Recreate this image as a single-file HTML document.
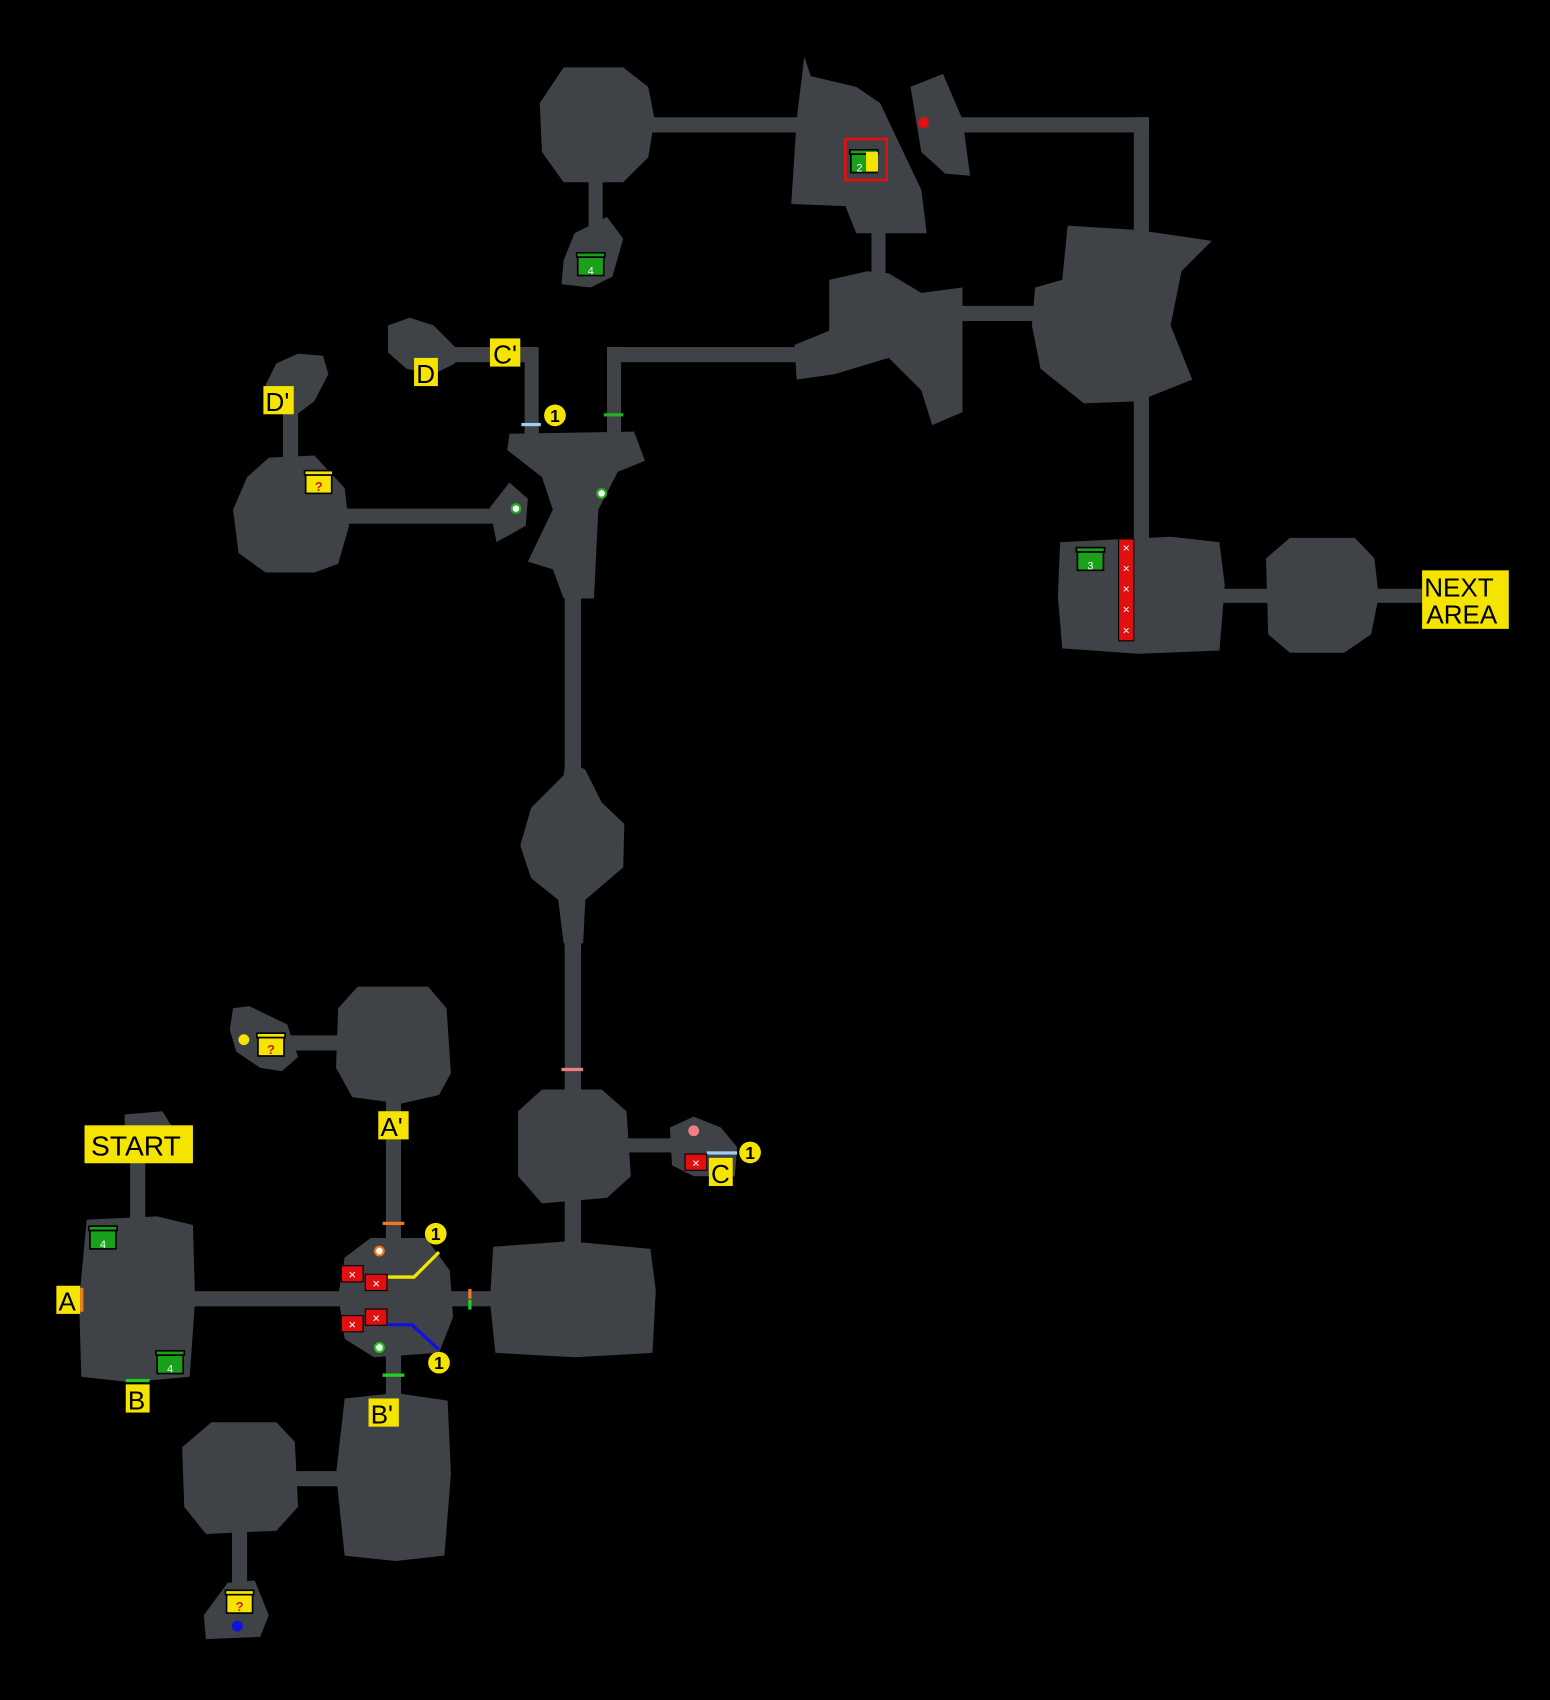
<!DOCTYPE html>
<html><head><meta charset="utf-8"><style>html,body{margin:0;padding:0;background:#000}svg{display:block}</style></head><body>
<svg width="1550" height="1700" viewBox="0 0 1430 1568" xmlns="http://www.w3.org/2000/svg" font-family="Liberation Sans, sans-serif">
<rect width="1430" height="1568" fill="#000"/>
<defs>
<g id="gc"><rect x="-12" y="-7" width="24" height="17" fill="#1aa01a" stroke="#000" stroke-width="1.5"/><rect x="-13" y="-11" width="26" height="4" fill="#1aa01a" stroke="#000" stroke-width="1.5"/></g>
<g id="yc"><rect x="-12" y="-7" width="24" height="17" fill="#f4e400" stroke="#000" stroke-width="1.5"/><rect x="-13" y="-11" width="26" height="4" fill="#f4e400" stroke="#000" stroke-width="1.5"/><text x="0" y="8" font-size="12" font-weight="bold" fill="#d02020" text-anchor="middle">?</text></g>
<g id="rx"><rect x="-10" y="-7.5" width="20" height="15" fill="#e01010" stroke="#000" stroke-width="1"/><text x="0" y="5" font-size="12" fill="#fff" text-anchor="middle">×</text></g>
<g id="one"><circle r="10" fill="#f4e400"/><text x="0" y="6" font-size="16" font-weight="bold" fill="#000" text-anchor="middle">1</text></g>
</defs>
<g fill="#3f4247">
<!-- corridors -->
<rect x="600" y="108" width="140" height="14"/>
<rect x="543" y="166" width="13" height="46"/>
<rect x="885" y="108" width="175" height="14"/>
<rect x="1046" y="108" width="14" height="108"/>
<rect x="804" y="212" width="13" height="45"/>
<rect x="886" y="282" width="75" height="14"/>
<rect x="1046" y="365" width="14" height="135"/>
<rect x="1126" y="543" width="46" height="13"/>
<rect x="1268" y="543" width="44" height="13"/>
<rect x="484" y="320" width="13" height="82"/>
<rect x="560" y="320" width="13" height="82"/>
<rect x="560" y="320" width="180" height="14"/>
<rect x="415" y="320" width="75" height="14"/>
<rect x="320" y="469" width="137" height="14"/>
<rect x="261" y="378" width="14" height="48"/>
<rect x="521" y="548" width="15" height="330"/>
<rect x="521" y="860" width="15" height="150"/>
<rect x="578" y="1050" width="48" height="13"/>
<rect x="521" y="1100" width="15" height="52"/>
<rect x="413" y="1191" width="44" height="14"/>
<rect x="176" y="1191" width="140" height="14"/>
<rect x="356" y="1012" width="14" height="140"/>
<rect x="356" y="1243" width="14" height="48"/>
<rect x="268" y="955" width="46" height="14"/>
<rect x="120" y="1068" width="14" height="60"/>
<rect x="270" y="1357" width="44" height="14"/>
<rect x="214" y="1408" width="14" height="55"/>
<!-- rooms -->
<polygon points="520,62 575,62 598,80 604,110 598,145 575,168 520,168 500,140 498,95"/>
<polygon points="530,215 560,200 575,220 565,255 545,265 518,262 520,240"/>
<polygon points="742,52 748,70 790,80 812,95 850,175 855,215 790,215 780,190 730,188 735,110"/>
<polygon points="840,80 870,68 888,110 895,162 872,160 850,140"/>
<polygon points="765,258 800,250 820,252 850,270 888,265 888,380 860,392 850,360 820,330 770,345 735,350 733,318 765,305"/>
<polygon points="985,208 1050,212 1118,222 1090,250 1080,300 1100,350 1050,370 1000,372 960,340 952,300 955,265 980,258"/>
<polygon points="978,500 1080,495 1125,500 1130,540 1125,600 1050,603 980,598 976,550"/>
<polygon points="1190,496 1250,496 1268,515 1272,550 1265,585 1240,602 1190,602 1170,585 1168,515"/>
<polygon points="470,400 585,398 595,425 570,435 552,470 548,552 520,552 510,525 487,518 510,470 500,440 468,415"/>
<polygon points="452,468 470,445 487,460 485,485 458,500"/>
<polygon points="248,422 290,420 318,450 322,485 312,520 290,528 245,528 220,510 215,470 228,440"/>
<polygon points="255,335 275,326 298,328 303,345 290,370 270,385 255,380 245,355"/>
<polygon points="358,300 378,293 400,300 420,320 420,335 400,345 375,340 358,325"/>
<polygon points="522,700 540,710 555,740 576,760 575,800 540,830 538,870 520,870 515,830 490,810 480,780 490,745 520,715"/>
<polygon points="500,1005 555,1005 578,1025 582,1085 560,1105 500,1110 478,1085 478,1025"/>
<polygon points="618,1040 640,1030 665,1040 680,1058 678,1085 640,1085 620,1075"/>
<polygon points="455,1150 525,1145 600,1152 605,1190 602,1248 530,1252 457,1248 452,1200"/>
<polygon points="342,1142 393,1142 415,1172 418,1215 405,1248 345,1252 318,1235 312,1195 318,1160"/>
<polygon points="330,910 395,910 412,930 416,990 405,1010 370,1018 325,1012 310,985 312,930"/>
<polygon points="215,930 230,928 265,945 275,975 260,988 240,985 218,970 212,950"/>
<polygon points="115,1028 150,1025 162,1045 115,1045"/>
<polygon points="80,1125 145,1122 178,1130 180,1200 175,1270 120,1275 75,1270 73,1200"/>
<polygon points="318,1290 365,1285 413,1292 416,1360 410,1435 365,1440 318,1435 310,1360"/>
<polygon points="195,1312 255,1312 272,1330 275,1390 255,1412 190,1415 170,1390 168,1335"/>
<polygon points="210,1460 235,1458 248,1490 240,1510 190,1512 188,1490"/>
</g>
<!-- markers -->
<rect x="481" y="390" width="18" height="3" fill="#9fd0f0"/>
<rect x="557" y="381" width="18" height="3" fill="#20b020"/>
<rect x="518" y="985" width="20" height="3" fill="#f08080"/>
<rect x="353" y="1127" width="20" height="3" fill="#f07820"/>
<rect x="353" y="1267" width="20" height="3" fill="#20d020"/>
<rect x="432" y="1189" width="3" height="9" fill="#f07820"/>
<rect x="432" y="1199" width="3" height="9" fill="#20d020"/>
<rect x="116" y="1272" width="22" height="3" fill="#20d020"/>
<rect x="74" y="1188" width="3" height="22" fill="#f07820"/>
<rect x="652" y="1062" width="28" height="3" fill="#9fd0f0"/>
<circle cx="852" cy="113" r="5" fill="#e01010"/>
<circle cx="640" cy="1043" r="5" fill="#f08080"/>
<circle cx="225" cy="959" r="5" fill="#f4e400"/>
<circle cx="219" cy="1500" r="5" fill="#1010e0"/>
<circle cx="476" cy="469" r="4" fill="#fff" stroke="#20b020" stroke-width="2"/>
<circle cx="555" cy="455" r="4" fill="#fff" stroke="#20b020" stroke-width="2"/>
<circle cx="350" cy="1154" r="4" fill="#fff" stroke="#f07820" stroke-width="2"/>
<circle cx="350" cy="1243" r="4" fill="#fff" stroke="#20d020" stroke-width="2"/>
<polyline points="358,1178 382,1178 405,1155" fill="none" stroke="#f4e400" stroke-width="3"/>
<polyline points="358,1222 380,1222 405,1245" fill="none" stroke="#1010e0" stroke-width="3"/>
<use href="#rx" x="325" y="1175"/><use href="#rx" x="347" y="1183"/>
<use href="#rx" x="325" y="1221"/><use href="#rx" x="347" y="1215"/>
<use href="#rx" x="642" y="1072"/>
<use href="#rx" x="1039" y="505" transform="translate(1039 505) scale(0.7) translate(-1039 -505)"/>
<g transform="translate(1039 0)">
<rect x="-7" y="497" width="14" height="94" fill="#e01010" stroke="#000"/>
<text x="0" y="509" font-size="11" fill="#fff" text-anchor="middle">×</text>
<text x="0" y="528" font-size="11" fill="#fff" text-anchor="middle">×</text>
<text x="0" y="547" font-size="11" fill="#fff" text-anchor="middle">×</text>
<text x="0" y="566" font-size="11" fill="#fff" text-anchor="middle">×</text>
<text x="0" y="585" font-size="11" fill="#fff" text-anchor="middle">×</text>
</g>
<use href="#one" x="402" y="1138"/><use href="#one" x="405" y="1257"/>
<use href="#one" x="512" y="383"/><use href="#one" x="692" y="1063"/>
<!-- chests -->
<rect x="780" y="128" width="38" height="38" fill="none" stroke="#e01010" stroke-width="2.5"/>
<use href="#gc" x="797" y="149"/><text x="793" y="158" font-size="10" fill="#fff" text-anchor="middle">2</text>
<rect x="799" y="140" width="11" height="18" fill="#f4e400"/>
<use href="#gc" x="545" y="244"/><text x="545" y="253" font-size="10" fill="#fff" text-anchor="middle">4</text>
<use href="#gc" x="1006" y="516"/><text x="1006" y="525" font-size="10" fill="#fff" text-anchor="middle">3</text>
<use href="#gc" x="95" y="1142"/><text x="95" y="1151" font-size="10" fill="#fff" text-anchor="middle">4</text>
<use href="#gc" x="157" y="1257"/><text x="157" y="1266" font-size="10" fill="#fff" text-anchor="middle">4</text>
<use href="#yc" x="294" y="445"/>
<use href="#yc" x="250" y="964"/>
<use href="#yc" x="221" y="1478"/>
<!-- labels -->
<g font-size="24" fill="#000">
<rect x="452" y="312" width="28" height="26" fill="#f4e400"/><text x="455" y="335">C'</text>
<rect x="382" y="330" width="22" height="26" fill="#f4e400"/><text x="384" y="353">D</text>
<rect x="243" y="356" width="28" height="26" fill="#f4e400"/><text x="245" y="379">D'</text>
<rect x="1312" y="526" width="80" height="54" fill="#f4e400"/><text x="1314" y="550">NEXT</text><text x="1316" y="575">AREA</text>
<rect x="654" y="1068" width="22" height="26" fill="#f4e400"/><text x="656" y="1091">C</text>
<rect x="349" y="1025" width="28" height="26" fill="#f4e400"/><text x="351" y="1048">A'</text>
<rect x="78" y="1038" width="100" height="35" fill="#f4e400"/><text x="84" y="1066" font-size="26">START</text>
<rect x="52" y="1186" width="22" height="26" fill="#f4e400"/><text x="54" y="1209">A</text>
<rect x="116" y="1277" width="22" height="26" fill="#f4e400"/><text x="118" y="1300">B</text>
<rect x="340" y="1290" width="28" height="26" fill="#f4e400"/><text x="342" y="1313">B'</text>
</g>
</svg>
</body></html>
